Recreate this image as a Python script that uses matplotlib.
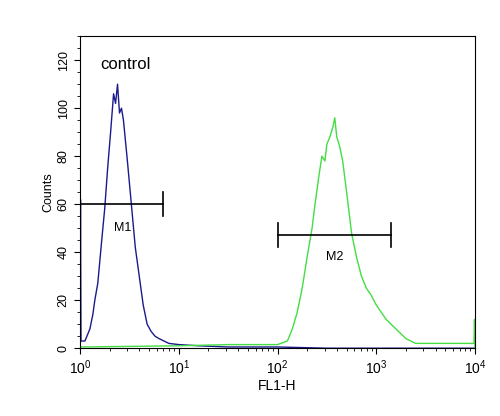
import matplotlib.pyplot as plt
import numpy as np

plt.rcParams['font.family'] = ['Liberation Sans', 'DejaVu Sans']

# control histogram (log10 FL1-H, counts)
blue_logx = [0.0, 0.005, 0.01, 0.05, 0.1, 0.13, 0.15, 0.18, 0.22, 0.25, 0.28, 0.31, 0.34, 0.36, 0.38,
             0.40, 0.42, 0.44, 0.48, 0.52, 0.56, 0.60, 0.64, 0.68, 0.72, 0.76, 0.8, 0.9, 1.0,
             1.2, 1.5, 2.0, 2.5, 4.0]
blue_counts = [0, 62, 3, 3, 8, 14, 20, 27, 45, 58, 75, 90, 106, 102, 110,
               98, 100, 95, 78, 60, 42, 30, 18, 10, 7, 5, 4, 2, 1.5,
               1, 0.5, 0.5, 0, 0]

# stained sample histogram
green_logx = [0.0, 1.0, 1.5, 2.0, 2.1, 2.15, 2.2, 2.25, 2.3, 2.35, 2.38, 2.42, 2.45, 2.48, 2.5,
              2.53, 2.56, 2.58, 2.6, 2.63, 2.66, 2.7, 2.75, 2.8, 2.85, 2.9, 2.95, 3.0, 3.05,
              3.1, 3.15, 3.2, 3.3, 3.4, 3.6, 3.8, 3.99, 3.995, 4.0]
green_counts = [0.5, 1, 1.5, 1.5, 3, 8, 15, 25, 38, 50, 60, 72, 80, 78, 85,
                88, 92, 96, 88, 84, 78, 65, 48, 38, 30, 25, 22, 18, 15,
                12, 10, 8, 4, 2, 2, 2, 2, 12, 0]

# markers: (label, start, end, y, label x, label y)
markers = [('M1', 1.0, 7.0, 60, 2.7, 50), ('M2', 100.0, 1400.0, 47, 380.0, 38)]

fig = plt.figure(figsize=(5, 4.16), dpi=100)
ax = fig.add_axes([0.16, 0.163, 0.79, 0.75])

ax.plot(10 ** np.array(blue_logx), blue_counts, color='#1a1a8c', lw=1.0)
ax.plot(10 ** np.array(green_logx), green_counts, color='#44dd44', lw=1.0)

for name, x0, x1, y, lx, ly in markers:
    ax.plot([x0, x1], [y, y], color='black', lw=1.2)
    ax.plot([x1, x1], [y - 5, y + 5], color='black', lw=1.2)
    if x0 > 1:
        ax.plot([x0, x0], [y - 5, y + 5], color='black', lw=1.2)
    ax.text(lx, ly, name, ha='center', va='center', fontsize=9)

ax.text(1.6, 118, 'control', fontsize=12, va='center')

ax.set_xscale('log')
ax.set_xlim(1, 1e4)
ax.set_ylim(0, 130)
ax.set_yticks(range(0, 121, 20))
ax.set_yticks(range(0, 131, 5), minor=True)
ax.tick_params(axis='y', labelrotation=90, labelsize=9, direction='out', length=4)
ax.tick_params(axis='x', labelsize=10, direction='out', length=4)
for lab in ax.get_yticklabels():
    lab.set_va('center')
ax.set_xlabel('FL1-H', fontsize=10, labelpad=1)
ax.set_ylabel('Counts', fontsize=9, labelpad=2)

fig.savefig('out.png')
